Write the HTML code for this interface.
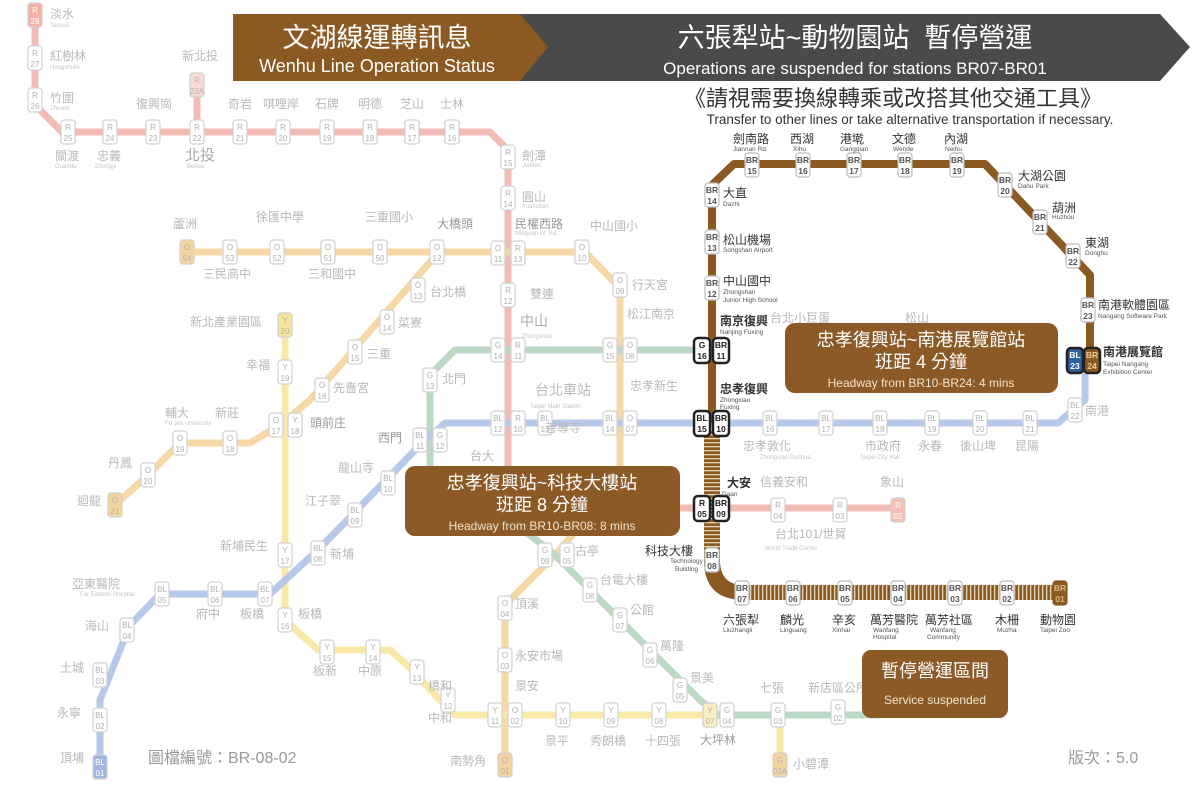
<!DOCTYPE html>
<html><head><meta charset="utf-8"><style>
html,body{margin:0;padding:0;background:#fff;}
svg{display:block;font-family:"Liberation Sans","Noto Sans CJK TC",sans-serif;}
.s rect{fill:#fff;stroke:#d0d0d0;stroke-width:1.2}
.s text{font-size:8px;fill:#b0b0b0;text-anchor:middle}
.k rect{fill:#fff;stroke:#222;stroke-width:2.5}
.k text{font-size:8.5px;fill:#222;text-anchor:middle;font-weight:bold}
.w rect{fill:#fff;stroke:#bbb;stroke-width:1.2}
.w text{font-size:8.5px;fill:#555;text-anchor:middle;font-weight:bold}
.n{font-size:12px;fill:#b8b8b8}
.e{font-size:6px;fill:#c4c4c4}
.bn{font-size:12px;fill:#333}
.be{font-size:6.5px;fill:#555}
.m{text-anchor:middle}
</style></head><body>
<svg width="1202" height="801" viewBox="0 0 1202 801">
<defs>
<pattern id="hv" width="4" height="4" patternUnits="userSpaceOnUse"><rect width="4" height="4" fill="#8b5a22"/><rect y="2" width="4" height="1.3" fill="#e8d6b8"/></pattern>
<pattern id="hh" width="4" height="4" patternUnits="userSpaceOnUse"><rect width="4" height="4" fill="#8b5a22"/><rect x="2" width="1.3" height="4" fill="#e8d6b8"/></pattern>
</defs>
<rect width="1202" height="801" fill="#fff"/>
<!-- lines -->
<g fill="none" stroke-linejoin="round" stroke-width="7">
<path d="M35,15 V105 L62,132 H490 L508,150 V470 L540,508 H898" stroke="#f2bcb4"/>
<path d="M197,132 V85" stroke="#f2bcb4"/>
<path d="M187,252 H585 L620,288 V480 L555,555 L505,605 V765" stroke="#f6d7a6"/>
<path d="M437,254 L310,400 L280,425 L250,443 H180 L148,475 L115,505" stroke="#f6d7a6"/>
<path d="M285,325 V620 L318,650 H390 L410,668 L440,700 L455,715 H730" stroke="#f9e8a8"/>
<path d="M780,715 V765" stroke="#f9e8a8"/>
<path d="M712,350 H455 L430,375 V480 L530,535 L555,555 L700,700 L718,715 H880" stroke="#bcd9c6"/>
<path d="M100,767 V700 L130,625 L160,594 H270 L320,548 L420,445 L445,423 H1058 L1085,400 V360" stroke="#b7c9ea"/>
</g>
<!-- brown -->
<path d="M712,423 V185 L734,164 H985 L1090,275 V362" fill="none" stroke="#8b5a22" stroke-width="8" stroke-linejoin="round"/>
<rect x="704" y="430" width="16" height="130" fill="url(#hv)"/>
<path d="M704,560 Q704,600 744,600 L744,585 Q720,585 720,560 Z" fill="#8b5a22"/>
<rect x="744" y="585" width="322" height="15" fill="url(#hh)"/>
<!-- header -->
<polygon points="510,14 1160,14 1190,47 1160,81 510,81" fill="#4a4a4a"/>
<polygon points="233,14 520,14 548,47 520,81 233,81" fill="#8b5a22"/>
<text x="377" y="47" font-size="27" fill="#fff" class="m">文湖線運轉訊息</text>
<text x="377" y="72" font-size="18" fill="#fff" class="m">Wenhu Line Operation Status</text>
<text x="855" y="47" font-size="27" fill="#fff" class="m">六張犁站~動物園站 &#160;暫停營運</text>
<text x="855" y="74" font-size="17" fill="#fff" class="m">Operations are suspended for stations BR07-BR01</text>
<text x="893" y="106" font-size="22" fill="#333" class="m">《請視需要換線轉乘或改搭其他交通工具》</text>
<text x="910" y="124" font-size="13.5" fill="#333" class="m">Transfer to other lines or take alternative transportation if necessary.</text>
<!-- red stations -->
<g class="s">
<g transform="translate(35,15)"><rect x="-7" y="-12" width="14" height="24" rx="3" fill="#f5b8a8" style="fill:#f3b2a2"/><text y="-2" style="fill:#fff">R</text><text y="9" style="fill:#fff">28</text></g>
<g transform="translate(35,58)"><rect x="-7" y="-12" width="14" height="24" rx="3"/><text y="-2">R</text><text y="9">27</text></g>
<g transform="translate(35,100)"><rect x="-7" y="-12" width="14" height="24" rx="3"/><text y="-2">R</text><text y="9">26</text></g>
<g transform="translate(68,132)"><rect x="-7" y="-12" width="14" height="24" rx="3"/><text y="-2">R</text><text y="9">25</text></g>
<g transform="translate(110,132)"><rect x="-7" y="-12" width="14" height="24" rx="3"/><text y="-2">R</text><text y="9">24</text></g>
<g transform="translate(153,132)"><rect x="-7" y="-12" width="14" height="24" rx="3"/><text y="-2">R</text><text y="9">23</text></g>
<g transform="translate(197,132)"><rect x="-7" y="-12" width="14" height="24" rx="3"/><text y="-2">R</text><text y="9">22</text></g>
<g transform="translate(197,85)"><rect x="-7" y="-12" width="14" height="24" rx="3" style="fill:#f8dcd4"/><text y="-2">R</text><text y="9">22A</text></g>
<g transform="translate(240,132)"><rect x="-7" y="-12" width="14" height="24" rx="3"/><text y="-2">R</text><text y="9">21</text></g>
<g transform="translate(283,132)"><rect x="-7" y="-12" width="14" height="24" rx="3"/><text y="-2">R</text><text y="9">20</text></g>
<g transform="translate(327,132)"><rect x="-7" y="-12" width="14" height="24" rx="3"/><text y="-2">R</text><text y="9">19</text></g>
<g transform="translate(370,132)"><rect x="-7" y="-12" width="14" height="24" rx="3"/><text y="-2">R</text><text y="9">18</text></g>
<g transform="translate(412,132)"><rect x="-7" y="-12" width="14" height="24" rx="3"/><text y="-2">R</text><text y="9">17</text></g>
<g transform="translate(452,132)"><rect x="-7" y="-12" width="14" height="24" rx="3"/><text y="-2">R</text><text y="9">16</text></g>
<g transform="translate(508,157)"><rect x="-7" y="-12" width="14" height="24" rx="3"/><text y="-2">R</text><text y="9">15</text></g>
<g transform="translate(508,198)"><rect x="-7" y="-12" width="14" height="24" rx="3"/><text y="-2">R</text><text y="9">14</text></g>
<g transform="translate(518,253)"><rect x="-7" y="-12" width="14" height="24" rx="3"/><text y="-2">R</text><text y="9">13</text></g>
<g transform="translate(508,295)"><rect x="-7" y="-12" width="14" height="24" rx="3"/><text y="-2">R</text><text y="9">12</text></g>
<g transform="translate(518,350)"><rect x="-7" y="-12" width="14" height="24" rx="3"/><text y="-2">R</text><text y="9">11</text></g>
<g transform="translate(518,423)"><rect x="-7" y="-12" width="14" height="24" rx="3"/><text y="-2">R</text><text y="9">10</text></g>
<g transform="translate(778,510)"><rect x="-7" y="-12" width="14" height="24" rx="3"/><text y="-2">R</text><text y="9">04</text></g>
<g transform="translate(840,510)"><rect x="-7" y="-12" width="14" height="24" rx="3"/><text y="-2">R</text><text y="9">03</text></g>
<g transform="translate(898,510)"><rect x="-7" y="-12" width="14" height="24" rx="3" style="fill:#f5c0b2"/><text y="-2" style="fill:#fff">R</text><text y="9" style="fill:#fff">02</text></g>
<!-- orange -->
<g transform="translate(187,252)"><rect x="-7" y="-12" width="14" height="24" rx="3" style="fill:#f4d49e"/><text y="-2">O</text><text y="9">54</text></g>
<g transform="translate(230,252)"><rect x="-7" y="-12" width="14" height="24" rx="3"/><text y="-2">O</text><text y="9">53</text></g>
<g transform="translate(277,252)"><rect x="-7" y="-12" width="14" height="24" rx="3"/><text y="-2">O</text><text y="9">52</text></g>
<g transform="translate(328,252)"><rect x="-7" y="-12" width="14" height="24" rx="3"/><text y="-2">O</text><text y="9">51</text></g>
<g transform="translate(380,252)"><rect x="-7" y="-12" width="14" height="24" rx="3"/><text y="-2">O</text><text y="9">50</text></g>
<g transform="translate(437,252)"><rect x="-7" y="-12" width="14" height="24" rx="3"/><text y="-2">O</text><text y="9">12</text></g>
<g transform="translate(498,253)"><rect x="-7" y="-12" width="14" height="24" rx="3"/><text y="-2">O</text><text y="9">11</text></g>
<g transform="translate(582,252)"><rect x="-7" y="-12" width="14" height="24" rx="3"/><text y="-2">O</text><text y="9">10</text></g>
<g transform="translate(620,285)"><rect x="-7" y="-12" width="14" height="24" rx="3"/><text y="-2">O</text><text y="9">09</text></g>
<g transform="translate(630,350)"><rect x="-7" y="-12" width="14" height="24" rx="3"/><text y="-2">O</text><text y="9">08</text></g>
<g transform="translate(630,423)"><rect x="-7" y="-12" width="14" height="24" rx="3"/><text y="-2">O</text><text y="9">07</text></g>
<g transform="translate(567,555)"><rect x="-7" y="-12" width="14" height="24" rx="3"/><text y="-2">O</text><text y="9">05</text></g>
<g transform="translate(505,608)"><rect x="-7" y="-12" width="14" height="24" rx="3"/><text y="-2">O</text><text y="9">04</text></g>
<g transform="translate(505,660)"><rect x="-7" y="-12" width="14" height="24" rx="3"/><text y="-2">O</text><text y="9">03</text></g>
<g transform="translate(515,715)"><rect x="-7" y="-12" width="14" height="24" rx="3"/><text y="-2">O</text><text y="9">02</text></g>
<g transform="translate(505,765)"><rect x="-7" y="-12" width="14" height="24" rx="3" style="fill:#f4d49e"/><text y="-2">O</text><text y="9">01</text></g>
<g transform="translate(418,290)"><rect x="-7" y="-12" width="14" height="24" rx="3"/><text y="-2">O</text><text y="9">13</text></g>
<g transform="translate(387,322)"><rect x="-7" y="-12" width="14" height="24" rx="3"/><text y="-2">O</text><text y="9">14</text></g>
<g transform="translate(355,352)"><rect x="-7" y="-12" width="14" height="24" rx="3"/><text y="-2">O</text><text y="9">15</text></g>
<g transform="translate(322,390)"><rect x="-7" y="-12" width="14" height="24" rx="3"/><text y="-2">O</text><text y="9">16</text></g>
<g transform="translate(276,425)"><rect x="-7" y="-12" width="14" height="24" rx="3"/><text y="-2">O</text><text y="9">17</text></g>
<g transform="translate(230,443)"><rect x="-7" y="-12" width="14" height="24" rx="3"/><text y="-2">O</text><text y="9">18</text></g>
<g transform="translate(180,443)"><rect x="-7" y="-12" width="14" height="24" rx="3"/><text y="-2">O</text><text y="9">19</text></g>
<g transform="translate(148,475)"><rect x="-7" y="-12" width="14" height="24" rx="3"/><text y="-2">O</text><text y="9">20</text></g>
<g transform="translate(115,505)"><rect x="-7" y="-12" width="14" height="24" rx="3" style="fill:#f4d49e"/><text y="-2">O</text><text y="9">21</text></g>
<!-- yellow -->
<g transform="translate(285,325)"><rect x="-7" y="-12" width="14" height="24" rx="3" style="fill:#f8e49a"/><text y="-2">Y</text><text y="9">20</text></g>
<g transform="translate(285,372)"><rect x="-7" y="-12" width="14" height="24" rx="3"/><text y="-2">Y</text><text y="9">19</text></g>
<g transform="translate(295,425)"><rect x="-7" y="-12" width="14" height="24" rx="3"/><text y="-2">Y</text><text y="9">18</text></g>
<g transform="translate(285,555)"><rect x="-7" y="-12" width="14" height="24" rx="3"/><text y="-2">Y</text><text y="9">17</text></g>
<g transform="translate(285,620)"><rect x="-7" y="-12" width="14" height="24" rx="3"/><text y="-2">Y</text><text y="9">16</text></g>
<g transform="translate(327,652)"><rect x="-7" y="-12" width="14" height="24" rx="3"/><text y="-2">Y</text><text y="9">15</text></g>
<g transform="translate(373,652)"><rect x="-7" y="-12" width="14" height="24" rx="3"/><text y="-2">Y</text><text y="9">14</text></g>
<g transform="translate(417,672)"><rect x="-7" y="-12" width="14" height="24" rx="3"/><text y="-2">Y</text><text y="9">13</text></g>
<g transform="translate(448,700)"><rect x="-7" y="-12" width="14" height="24" rx="3"/><text y="-2">Y</text><text y="9">12</text></g>
<g transform="translate(495,715)"><rect x="-7" y="-12" width="14" height="24" rx="3"/><text y="-2">Y</text><text y="9">11</text></g>
<g transform="translate(563,715)"><rect x="-7" y="-12" width="14" height="24" rx="3"/><text y="-2">Y</text><text y="9">10</text></g>
<g transform="translate(611,715)"><rect x="-7" y="-12" width="14" height="24" rx="3"/><text y="-2">Y</text><text y="9">09</text></g>
<g transform="translate(659,715)"><rect x="-7" y="-12" width="14" height="24" rx="3"/><text y="-2">Y</text><text y="9">08</text></g>
<g transform="translate(710,715)"><rect x="-7" y="-12" width="14" height="24" rx="3" style="fill:#fbeec4"/><text y="-2">Y</text><text y="9">07</text></g>
<g transform="translate(780,765)"><rect x="-7" y="-12" width="14" height="24" rx="3" style="fill:#f4d49e"/><text y="-2">G</text><text y="9">03A</text></g>
<!-- green -->
<g transform="translate(498,350)"><rect x="-7" y="-12" width="14" height="24" rx="3"/><text y="-2">G</text><text y="9">14</text></g>
<g transform="translate(610,350)"><rect x="-7" y="-12" width="14" height="24" rx="3"/><text y="-2">G</text><text y="9">15</text></g>
<g transform="translate(430,380)"><rect x="-7" y="-12" width="14" height="24" rx="3"/><text y="-2">G</text><text y="9">13</text></g>
<g transform="translate(440,440)"><rect x="-7" y="-12" width="14" height="24" rx="3"/><text y="-2">G</text><text y="9">12</text></g>
<g transform="translate(545,555)"><rect x="-7" y="-12" width="14" height="24" rx="3"/><text y="-2">G</text><text y="9">09</text></g>
<g transform="translate(590,590)"><rect x="-7" y="-12" width="14" height="24" rx="3"/><text y="-2">G</text><text y="9">08</text></g>
<g transform="translate(620,620)"><rect x="-7" y="-12" width="14" height="24" rx="3"/><text y="-2">G</text><text y="9">07</text></g>
<g transform="translate(650,655)"><rect x="-7" y="-12" width="14" height="24" rx="3"/><text y="-2">G</text><text y="9">06</text></g>
<g transform="translate(680,690)"><rect x="-7" y="-12" width="14" height="24" rx="3"/><text y="-2">G</text><text y="9">05</text></g>
<g transform="translate(727,715)"><rect x="-7" y="-12" width="14" height="24" rx="3"/><text y="-2">G</text><text y="9">04</text></g>
<g transform="translate(778,715)"><rect x="-7" y="-12" width="14" height="24" rx="3"/><text y="-2">G</text><text y="9">03</text></g>
<g transform="translate(838,712)"><rect x="-7" y="-12" width="14" height="24" rx="3"/><text y="-2">G</text><text y="9">02</text></g>
<!-- blue -->
<g transform="translate(100,767)"><rect x="-7" y="-12" width="14" height="24" rx="3" style="fill:#9fb6e2"/><text y="-2" style="fill:#fff">BL</text><text y="9" style="fill:#fff">01</text></g>
<g transform="translate(100,720)"><rect x="-7" y="-12" width="14" height="24" rx="3"/><text y="-2">BL</text><text y="9">02</text></g>
<g transform="translate(100,675)"><rect x="-7" y="-12" width="14" height="24" rx="3"/><text y="-2">BL</text><text y="9">03</text></g>
<g transform="translate(127,630)"><rect x="-7" y="-12" width="14" height="24" rx="3"/><text y="-2">BL</text><text y="9">04</text></g>
<g transform="translate(162,594)"><rect x="-7" y="-12" width="14" height="24" rx="3"/><text y="-2">BL</text><text y="9">05</text></g>
<g transform="translate(215,594)"><rect x="-7" y="-12" width="14" height="24" rx="3"/><text y="-2">BL</text><text y="9">06</text></g>
<g transform="translate(265,594)"><rect x="-7" y="-12" width="14" height="24" rx="3"/><text y="-2">BL</text><text y="9">07</text></g>
<g transform="translate(318,553)"><rect x="-7" y="-12" width="14" height="24" rx="3"/><text y="-2">BL</text><text y="9">08</text></g>
<g transform="translate(355,515)"><rect x="-7" y="-12" width="14" height="24" rx="3"/><text y="-2">BL</text><text y="9">09</text></g>
<g transform="translate(388,483)"><rect x="-7" y="-12" width="14" height="24" rx="3"/><text y="-2">BL</text><text y="9">10</text></g>
<g transform="translate(420,440)"><rect x="-7" y="-12" width="14" height="24" rx="3"/><text y="-2">BL</text><text y="9">11</text></g>
<g transform="translate(498,423)"><rect x="-7" y="-12" width="14" height="24" rx="3"/><text y="-2">BL</text><text y="9">12</text></g>
<g transform="translate(545,423)"><rect x="-7" y="-12" width="14" height="24" rx="3"/><text y="-2">BL</text><text y="9">13</text></g>
<g transform="translate(610,423)"><rect x="-7" y="-12" width="14" height="24" rx="3"/><text y="-2">BL</text><text y="9">14</text></g>
<g transform="translate(770,423)"><rect x="-7" y="-12" width="14" height="24" rx="3"/><text y="-2">BL</text><text y="9">16</text></g>
<g transform="translate(826,423)"><rect x="-7" y="-12" width="14" height="24" rx="3"/><text y="-2">BL</text><text y="9">17</text></g>
<g transform="translate(880,423)"><rect x="-7" y="-12" width="14" height="24" rx="3"/><text y="-2">BL</text><text y="9">18</text></g>
<g transform="translate(932,423)"><rect x="-7" y="-12" width="14" height="24" rx="3"/><text y="-2">BL</text><text y="9">19</text></g>
<g transform="translate(980,423)"><rect x="-7" y="-12" width="14" height="24" rx="3"/><text y="-2">BL</text><text y="9">20</text></g>
<g transform="translate(1030,423)"><rect x="-7" y="-12" width="14" height="24" rx="3"/><text y="-2">BL</text><text y="9">21</text></g>
<g transform="translate(1075,410)"><rect x="-7" y="-12" width="14" height="24" rx="3"/><text y="-2">BL</text><text y="9">22</text></g>
</g>
<!-- brown stations -->
<g class="w">
<g transform="translate(712,195)"><rect x="-7" y="-12" width="14" height="24" rx="3"/><text y="-2">BR</text><text y="9">14</text></g>
<g transform="translate(712,242)"><rect x="-7" y="-12" width="14" height="24" rx="3"/><text y="-2">BR</text><text y="9">13</text></g>
<g transform="translate(712,288)"><rect x="-7" y="-12" width="14" height="24" rx="3"/><text y="-2">BR</text><text y="9">12</text></g>
<g transform="translate(752,165)"><rect x="-7" y="-12" width="14" height="24" rx="3"/><text y="-2">BR</text><text y="9">15</text></g>
<g transform="translate(803,165)"><rect x="-7" y="-12" width="14" height="24" rx="3"/><text y="-2">BR</text><text y="9">16</text></g>
<g transform="translate(854,165)"><rect x="-7" y="-12" width="14" height="24" rx="3"/><text y="-2">BR</text><text y="9">17</text></g>
<g transform="translate(905,165)"><rect x="-7" y="-12" width="14" height="24" rx="3"/><text y="-2">BR</text><text y="9">18</text></g>
<g transform="translate(957,165)"><rect x="-7" y="-12" width="14" height="24" rx="3"/><text y="-2">BR</text><text y="9">19</text></g>
<g transform="translate(1005,185)"><rect x="-7" y="-12" width="14" height="24" rx="3"/><text y="-2">BR</text><text y="9">20</text></g>
<g transform="translate(1040,222)"><rect x="-7" y="-12" width="14" height="24" rx="3"/><text y="-2">BR</text><text y="9">21</text></g>
<g transform="translate(1073,256)"><rect x="-7" y="-12" width="14" height="24" rx="3"/><text y="-2">BR</text><text y="9">22</text></g>
<g transform="translate(1088,310)"><rect x="-7" y="-12" width="14" height="24" rx="3"/><text y="-2">BR</text><text y="9">23</text></g>
<g transform="translate(712,560)"><rect x="-7" y="-12" width="14" height="24" rx="3"/><text y="-2">BR</text><text y="9">08</text></g>
<g transform="translate(742,593)"><rect x="-7" y="-12" width="14" height="24" rx="3"/><text y="-2">BR</text><text y="9">07</text></g>
<g transform="translate(793,593)"><rect x="-7" y="-12" width="14" height="24" rx="3"/><text y="-2">BR</text><text y="9">06</text></g>
<g transform="translate(845,593)"><rect x="-7" y="-12" width="14" height="24" rx="3"/><text y="-2">BR</text><text y="9">05</text></g>
<g transform="translate(898,593)"><rect x="-7" y="-12" width="14" height="24" rx="3"/><text y="-2">BR</text><text y="9">04</text></g>
<g transform="translate(955,593)"><rect x="-7" y="-12" width="14" height="24" rx="3"/><text y="-2">BR</text><text y="9">03</text></g>
<g transform="translate(1007,593)"><rect x="-7" y="-12" width="14" height="24" rx="3"/><text y="-2">BR</text><text y="9">02</text></g>
<g transform="translate(1060,593)"><rect x="-7" y="-12" width="14" height="24" rx="3" style="fill:#8b5a22;stroke:#8b5a22"/><text y="-2" style="fill:#d8b888">BR</text><text y="9" style="fill:#d8b888">01</text></g>
</g>
<g class="k">
<g transform="translate(702,350)"><rect x="-8" y="-12" width="16" height="25" rx="4"/><text y="-2">G</text><text y="9">16</text></g>
<g transform="translate(721,350)"><rect x="-8" y="-12" width="16" height="25" rx="4"/><text y="-2">BR</text><text y="9">11</text></g>
<g transform="translate(702,423)"><rect x="-8" y="-12" width="16" height="25" rx="4"/><text y="-2">BL</text><text y="9">15</text></g>
<g transform="translate(721,423)"><rect x="-8" y="-12" width="16" height="25" rx="4"/><text y="-2">BR</text><text y="9">10</text></g>
<g transform="translate(702,508)"><rect x="-8" y="-12" width="16" height="25" rx="4"/><text y="-2">R</text><text y="9">05</text></g>
<g transform="translate(721,508)"><rect x="-8" y="-12" width="16" height="25" rx="4"/><text y="-2">BR</text><text y="9">09</text></g>
<g transform="translate(1075,360)"><rect x="-8" y="-12" width="16" height="25" rx="4" style="fill:#2e5f9e"/><text y="-2" style="fill:#fff">BL</text><text y="9" style="fill:#fff">23</text></g>
<g transform="translate(1092,360)"><rect x="-8" y="-12" width="16" height="25" rx="4" style="fill:#8b5a22"/><text y="-2" style="fill:#e8cc9a">BR</text><text y="9" style="fill:#e8cc9a">24</text></g>
</g>
<!-- faded names -->
<g class="n">
<text x="50" y="18">淡水</text><text x="50" y="60">紅樹林</text><text x="50" y="102">竹圍</text>
<text x="55" y="160">關渡</text><text x="97" y="160">忠義</text><text x="185" y="160" style="font-size:15px;fill:#aaa">北投</text>
<text x="182" y="60">新北投</text><text x="136" y="108">復興崗</text><text x="228" y="108">奇岩</text><text x="263" y="108">唭哩岸</text><text x="315" y="108">石牌</text><text x="358" y="108">明德</text><text x="400" y="108">芝山</text><text x="440" y="108">士林</text>
<text x="522" y="160">劍潭</text><text x="522" y="201">圓山</text><text x="515" y="228" style="fill:#999">民權西路</text><text x="530" y="298">雙連</text><text x="520" y="326" style="font-size:14px;fill:#aaa">中山</text>
<text x="173" y="228">蘆洲</text><text x="256" y="221">徐匯中學</text><text x="365" y="221">三重國小</text><text x="437" y="228" style="fill:#999">大橋頭</text><text x="590" y="230">中山國小</text>
<text x="203" y="278">三民高中</text><text x="308" y="278">三和國中</text><text x="430" y="296">台北橋</text><text x="398" y="327">菜寮</text><text x="367" y="358">三重</text><text x="333" y="392">先嗇宮</text>
<text x="632" y="289">行天宮</text><text x="627" y="318">松江南京</text><text x="535" y="395" style="font-size:14px">台北車站</text><text x="630" y="390">忠孝新生</text><text x="442" y="383">北門</text>
<text x="190" y="326">新北產業園區</text><text x="246" y="369">幸福</text><text x="310" y="427" style="fill:#999">頭前庄</text><text x="165" y="417">輔大</text><text x="215" y="417">新莊</text><text x="108" y="467">丹鳳</text><text x="77" y="505">迴龍</text>
<text x="378" y="442" style="fill:#999">西門</text><text x="338" y="472">龍山寺</text><text x="305" y="505">江子翠</text><text x="330" y="558">新埔</text><text x="220" y="550">新埔民生</text>
<text x="72" y="588">亞東醫院</text><text x="196" y="618">府中</text><text x="240" y="618">板橋</text><text x="298" y="618">板橋</text><text x="85" y="630">海山</text><text x="60" y="672">土城</text><text x="57" y="717">永寧</text><text x="60" y="762">頂埔</text>
<text x="313" y="675">板新</text><text x="358" y="675">中原</text><text x="428" y="690">橋和</text><text x="428" y="722">中和</text><text x="450" y="765">南勢角</text>
<text x="545" y="432">善導寺</text><text x="470" y="460">台大</text><text x="575" y="555">古亭</text><text x="600" y="584">台電大樓</text><text x="630" y="614">公館</text><text x="660" y="650">萬隆</text><text x="690" y="682">景美</text>
<text x="515" y="608">頂溪</text><text x="515" y="660">永安市場</text><text x="515" y="690">景安</text><text x="545" y="745">景平</text><text x="590" y="745">秀朗橋</text><text x="645" y="745">十四張</text><text x="700" y="744" style="fill:#999">大坪林</text>
<text x="760" y="692">七張</text><text x="808" y="692">新店區公所</text><text x="793" y="768">小碧潭</text>
<text x="743" y="450">忠孝敦化</text><text x="760" y="486">信義安和</text><text x="880" y="486">象山</text><text x="775" y="538">台北101/世貿</text>
<text x="865" y="450">市政府</text><text x="918" y="450">永春</text><text x="960" y="450">後山埤</text><text x="1015" y="450">昆陽</text><text x="1085" y="415">南港</text>
<text x="770" y="322">台北小巨蛋</text><text x="905" y="322">松山</text>
</g>
<g class="e">
<text x="50" y="27">Tamsui</text><text x="50" y="69">Hongshulin</text><text x="50" y="110">Zhuwei</text><text x="55" y="168">Guandu</text><text x="95" y="168">Zhongyi</text><text x="187" y="168">Beitou</text>
<text x="522" y="167">Jiantan</text><text x="522" y="208">Yuanshan</text><text x="515" y="235">Minquan W. Rd.</text><text x="522" y="338">Zhongshan</text><text x="530" y="408">Taipei Main Station</text>
<text x="760" y="459">Zhongxiao Dunhua</text><text x="860" y="459">Taipei City Hall</text><text x="765" y="550">World Trade Center</text><text x="165" y="425">Fu Jen University</text><text x="80" y="596">Far Eastern Hospital</text>
</g>
<!-- brown names -->
<g class="bn">
<text x="733" y="143">劍南路</text><text x="790" y="143">西湖</text><text x="840" y="143">港墘</text><text x="892" y="143">文德</text><text x="944" y="143">內湖</text>
<text x="1018" y="180">大湖公園</text><text x="1052" y="212">葫洲</text><text x="1085" y="247">東湖</text><text x="1098" y="309">南港軟體園區</text>
<text x="723" y="197">大直</text><text x="723" y="244">松山機場</text><text x="723" y="285">中山國中</text>
<text x="720" y="325" style="font-weight:bold">南京復興</text><text x="720" y="393" style="font-weight:bold">忠孝復興</text><text x="727" y="487" style="font-weight:bold">大安</text>
<text x="645" y="555">科技大樓</text><text x="1103" y="356" style="font-weight:bold">南港展覽館</text>
<text x="723" y="624">六張犁</text><text x="780" y="624">麟光</text><text x="832" y="624">辛亥</text><text x="870" y="624">萬芳醫院</text><text x="925" y="624">萬芳社區</text><text x="995" y="624">木柵</text><text x="1040" y="624">動物園</text>
</g>
<g class="be">
<text x="733" y="151">Jiannan Rd.</text><text x="793" y="151">Xihu</text><text x="840" y="151">Gangqian</text><text x="893" y="151">Wende</text><text x="945" y="151">Neihu</text>
<text x="1018" y="188">Dahu Park</text><text x="1052" y="219">Huzhou</text><text x="1085" y="255">Donghu</text><text x="1098" y="318">Nangang Software Park</text>
<text x="723" y="206">Dazhi</text><text x="723" y="252">Songshan Airport</text><text x="723" y="294">Zhongshan</text><text x="723" y="302">Junior High School</text>
<text x="720" y="334">Nanjing Fuxing</text><text x="720" y="402">Zhongxiao</text><text x="720" y="409">Fuxing</text><text x="722" y="496">Daan</text>
<text x="670" y="563">Technology</text><text x="675" y="571">Building</text><text x="1103" y="366">Taipei Nangang</text><text x="1103" y="374">Exhibition Center</text>
<text x="723" y="632">Liuzhangli</text><text x="780" y="632">Linguang</text><text x="832" y="632">Xinhai</text><text x="873" y="632">Wanfang</text><text x="873" y="639">Hospital</text><text x="930" y="632">Wanfang</text><text x="927" y="639">Community</text><text x="997" y="632">Muzha</text><text x="1040" y="632">Taipei Zoo</text>
</g>
<!-- callouts -->
<rect x="785" y="323" width="273" height="70" rx="10" fill="#8b5a26"/>
<text x="921" y="346" font-size="18" fill="#fff" class="m">忠孝復興站~南港展覽館站</text>
<text x="921" y="368" font-size="18" fill="#fff" class="m">班距 4 分鐘</text>
<text x="921" y="387" font-size="12" fill="#f0e4d0" class="m">Headway from BR10-BR24: 4 mins</text>
<rect x="405" y="466" width="275" height="70" rx="10" fill="#8b5a26"/>
<text x="542" y="489" font-size="18" fill="#fff" class="m">忠孝復興站~科技大樓站</text>
<text x="542" y="511" font-size="18" fill="#fff" class="m">班距 8 分鐘</text>
<text x="542" y="530" font-size="12" fill="#f0e4d0" class="m">Headway from BR10-BR08: 8 mins</text>
<rect x="862" y="650" width="146" height="68" rx="9" fill="#8b5a26"/>
<text x="935" y="677" font-size="18" fill="#fff" class="m">暫停營運區間</text>
<text x="935" y="704" font-size="12" fill="#f0e4d0" class="m">Service suspended</text>
<text x="148" y="763" font-size="16" fill="#999">圖檔編號：BR-08-02</text>
<text x="1068" y="763" font-size="16" fill="#999">版次：5.0</text>
</svg>
</body></html>
